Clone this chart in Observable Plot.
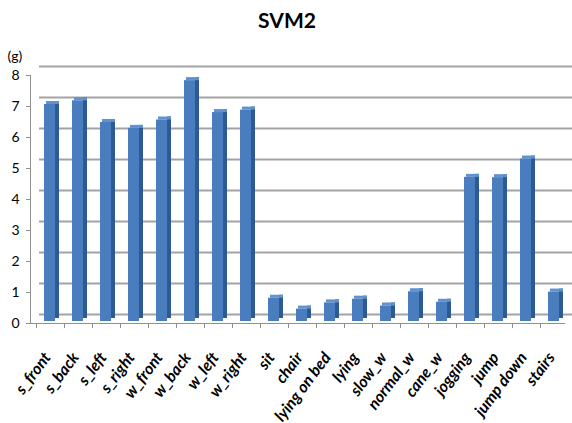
<!DOCTYPE html>
<html>
<head>
<meta charset="utf-8">
<script src="https://cdn.jsdelivr.net/npm/d3@7"></script>
<script src="https://cdn.jsdelivr.net/npm/@observablehq/plot@0.6"></script>
<style>
  html, body { margin: 0; padding: 0; background: #fff; }
  #title { height: 40px; line-height: 40px; text-align: center; font-family: Lato, "Open Sans", sans-serif; font-weight: bold; font-size: 21px; color: #000; padding-left: 2px; }
</style>
</head>
<body>
<div id="title">SVM2</div>
<div id="chart"></div>
<script>
const categories = ["s_front", "s_back", "s_left", "s_right", "w_front", "w_back", "w_left", "w_right", "sit", "chair", "lying on bed", "lying", "slow_w", "normal_w", "cane_w", "jogging", "jump", "jump down", "stairs"];
const values = [7.0, 7.12, 6.42, 6.23, 6.5, 7.77, 6.74, 6.82, 0.75, 0.4, 0.6, 0.72, 0.5, 0.96, 0.62, 4.65, 4.64, 5.24, 0.95];
const yTicks = [0, 1, 2, 3, 4, 5, 6, 7, 8];
const yUnit = "(g)";

const data = categories.map((c, i) => ({cat: c, v: values[i]}));

const chart = Plot.plot({
  width: 572,
  height: 383,
  marginLeft: 34,
  marginRight: 3,
  marginTop: 35,
  marginBottom: 100,
  style: {fontFamily: "Lato, 'Open Sans', sans-serif", background: "#fff", color: "#000"},
  x: {domain: categories, padding: 0},
  y: {domain: [0, 8]},
  marks: [
    // back-wall gridlines
    Plot.ruleY(yTicks, {stroke: "#a3a3a3", strokeWidth: 2, dy: -9, dx: 5}),
    // front baseline
    Plot.ruleY([0], {stroke: "#8f8f8f", strokeWidth: 1, dx: -4}),
    // left axis line
    Plot.frame({anchor: "left", stroke: "#8f8f8f", dx: -4}),
    // bar side face
    Plot.barY(data, {x: "cat", y: "v", fill: "#2d5a92", insetLeft: 19, insetRight: 5, dy: -5}),
    // bar top face
    Plot.barY(data, {x: "cat", y1: "v", y2: "v", fill: "#6092cf", insetLeft: 10, insetRight: 5, insetTop: -3, dy: -2}),
    // bar front face
    Plot.barY(data, {x: "cat", y: "v", fill: "#4a7dbe", insetLeft: 8, insetRight: 9, dy: -2}),
    Plot.axisY({ticks: yTicks, tickSize: 4, tickPadding: 7, fontSize: 14, stroke: "#8f8f8f", dx: -4, label: null}),
    Plot.axisX({tickSize: 5, tickFormat: () => "", dx: -14, stroke: "#8f8f8f", label: null}),
    Plot.axisX({tickSize: 0, tickPadding: 31, tickRotate: -53, fontSize: 16, fontWeight: "bold", fontStyle: "italic", dx: -3, label: null}),
    Plot.text([yUnit], {frameAnchor: "top-left", dx: -27, dy: -24, fontSize: 14, textAnchor: "start"})
  ]
});
document.getElementById("chart").appendChild(chart);
</script>
</body>
</html>
